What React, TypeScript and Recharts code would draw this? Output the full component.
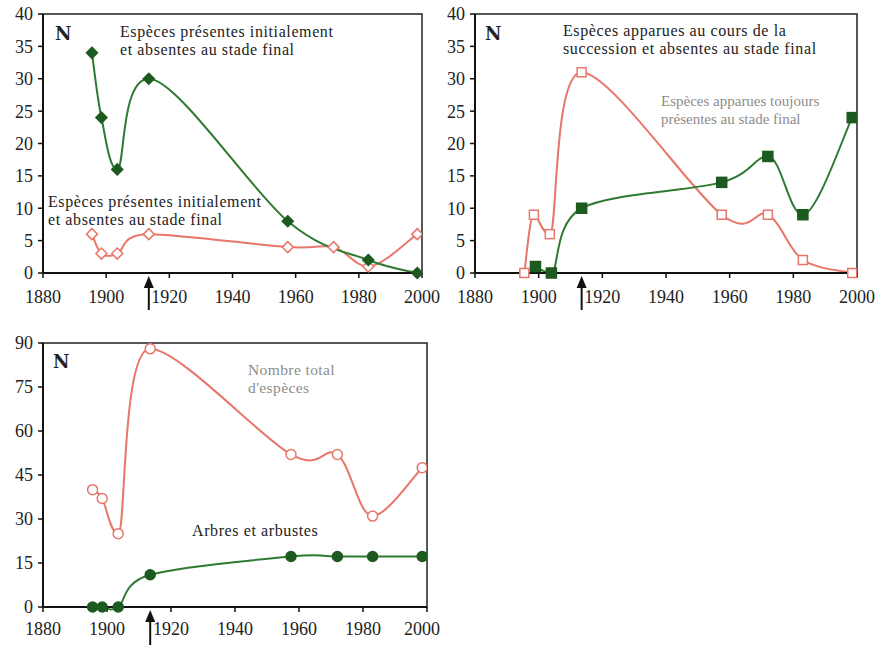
import React from "react";
import { LineChart, Line, XAxis, YAxis, ReferenceArea, ReferenceDot } from "recharts";

// ---- data ----
const years = [1895.5, 1898.5, 1903.5, 1913.5, 1957.5, 1972, 1983, 1998.5];
const xTicks = [1880, 1900, 1920, 1940, 1960, 1980, 2000];

// Chart 1
const initGreen = [34, 24, 16, 30, 8, null, 2, 0];
const initRed = [6, 3, 3, 6, 4, 4, 1, 6];
const yTicks1 = [0, 5, 10, 15, 20, 25, 30, 35, 40];

// Chart 2
const appRed = [0, 9, 6, 31, 9, 9, 2, 0];
const appGreenYears = [1899, 1904, 1913.5, 1957.5, 1972, 1983, 1998.5];
const appGreen = [1, 0, 10, 14, 18, 9, 24];
const yTicks2 = [0, 5, 10, 15, 20, 25, 30, 35, 40];

// Chart 3
const totalRed = [40, 37, 25, 88, 52, 52, 31, 47.5];
const treesGreen = [0, 0, 0, 11, 17.2, 17.2, 17.2, 17.2];
const yTicks3 = [0, 15, 30, 45, 60, 75, 90];

const arrowYear = 1913.5;

const GREEN_LINE = "#2f7a32";
const GREEN_MARK = "#1d5a20";
const RED = "#e8766a";
const FONT = "'Liberation Serif', serif";

const pts = (xs: number[], ys: (number | null)[]) => xs.map((x, i) => ({ x, y: ys[i] }));

// Catmull-Rom style curve factory, flattened at strict local extrema
function smoothCurve(context: any) {
  let p: number[][] = [];
  return {
    areaStart() {},
    areaEnd() {},
    lineStart() {
      p = [];
    },
    point(x: number, y: number) {
      p.push([+x, +y]);
    },
    lineEnd() {
      if (!p.length) return;
      const n = p.length;
      const tan = p.map((pt, i) => {
        const a = p[i - 1] || pt;
        const b = p[i + 1] || pt;
        const tx = (b[0] - a[0]) / 6;
        let ty = (b[1] - a[1]) / 6;
        if (i > 0 && i < n - 1 && (pt[1] - a[1]) * (b[1] - pt[1]) < 0) ty = 0;
        return [tx, ty];
      });
      context.moveTo(p[0][0], p[0][1]);
      for (let i = 0; i < n - 1; i++) {
        const p1 = p[i];
        const p2 = p[i + 1];
        context.bezierCurveTo(
          p1[0] + tan[i][0],
          p1[1] + tan[i][1],
          p2[0] - tan[i + 1][0],
          p2[1] - tan[i + 1][1],
          p2[0],
          p2[1]
        );
      }
    },
  };
}

const diamond = (fill: string, stroke: string, s: number) => (props: any) => {
  const { cx, cy, index } = props;
  if (cx == null || cy == null || props.value == null) return <g key={`d${index}`} />;
  return (
    <path
      key={`d${index}`}
      d={`M${cx},${cy - s} L${cx + s},${cy} L${cx},${cy + s} L${cx - s},${cy} Z`}
      fill={fill}
      stroke={stroke}
      strokeWidth={1.5}
    />
  );
};

const square = (fill: string, stroke: string, s: number) => (props: any) => {
  const { cx, cy, index } = props;
  if (cx == null || cy == null || props.value == null) return <g key={`s${index}`} />;
  return <rect key={`s${index}`} x={cx - s} y={cy - s} width={2 * s} height={2 * s} fill={fill} stroke={stroke} strokeWidth={1.5} />;
};

const circle = (fill: string, stroke: string, r: number) => (props: any) => {
  const { cx, cy, index } = props;
  if (cx == null || cy == null || props.value == null) return <g key={`c${index}`} />;
  return <circle key={`c${index}`} cx={cx} cy={cy} r={r} fill={fill} stroke={stroke} strokeWidth={1.5} />;
};

const Arrow = (props: any) => {
  const { cx, cy } = props;
  if (cx == null || cy == null) return <g />;
  return (
    <g>
      <line x1={cx} y1={cy + 10} x2={cx} y2={cy + 38} stroke="#111" strokeWidth={2} />
      <path d={`M${cx},${cy + 3} L${cx + 5},${cy + 15} L${cx - 5},${cy + 15} Z`} fill="#111" />
    </g>
  );
};

const tickStyle = { fontFamily: FONT, fontSize: 18, fill: "#222" };
const axisLine = { stroke: "#111", strokeWidth: 2 };
const tickLine = { stroke: "#111", strokeWidth: 1.5 };

type PanelProps = {
  left: number;
  top: number;
  width: number;
  height: number;
  margin: any;
  yWidth: number;
  yMax: number;
  yTicks: number[];
  xTickMargin: number;
  children: React.ReactNode;
};

const Panel = ({ left, top, width, height, margin, yWidth, yMax, yTicks, xTickMargin, children }: PanelProps) => (
  <div style={{ position: "absolute", left, top }}>
    <LineChart width={width} height={height} margin={margin}>
      <ReferenceArea x1={1880} x2={2000} y1={0} y2={yMax} fill="none" stroke="#222" strokeWidth={1.5} fillOpacity={0} />
      <XAxis
        dataKey="x"
        type="number"
        domain={[1880, 2000]}
        ticks={xTicks}
        allowDataOverflow
        height={30}
        tick={tickStyle}
        tickSize={5}
        tickMargin={xTickMargin}
        axisLine={axisLine}
        tickLine={tickLine}
      />
      <YAxis
        dataKey="y"
        type="number"
        domain={[0, yMax]}
        ticks={yTicks}
        width={yWidth}
        tick={tickStyle}
        tickSize={5}
        tickMargin={5}
        axisLine={axisLine}
        tickLine={tickLine}
        interval={0}
      />
      {children}
      <ReferenceDot x={arrowYear} y={0} ifOverflow="visible" shape={(p: any) => <Arrow {...p} />} />
    </LineChart>
  </div>
);

const labelStyle = { fontFamily: FONT, fontSize: 16, letterSpacing: 0.6, fill: "#222" };
const greyStyle = { fontFamily: FONT, fontSize: 15, fill: "#8c8c8c" };
const greyStyle3 = { fontFamily: FONT, fontSize: 15.5, letterSpacing: 0.4, fill: "#8c8c8c" };
const nStyle = { fontFamily: "'DejaVu Serif', serif", fontSize: 18, fontWeight: 700, fill: "#222" };

export default function App() {
  return (
    <div style={{ position: "absolute", left: 0, top: 0, width: 882, height: 646, background: "#fff", overflow: "hidden" }}>
      {/* Chart 1 */}
      <Panel left={0} top={0} width={440} height={310} margin={{ top: 14, right: 18, bottom: 7, left: 0 }} yWidth={43} yMax={40} yTicks={yTicks1} xTickMargin={12}>
        <Line data={pts(years, initRed)} dataKey="y" type={smoothCurve as any} stroke={RED} strokeWidth={2} dot={diamond("#fff", RED, 5.5)} isAnimationActive={false} />
        <Line data={pts(years, initGreen)} dataKey="y" type={smoothCurve as any} stroke={GREEN_LINE} strokeWidth={2} connectNulls dot={diamond(GREEN_MARK, GREEN_MARK, 5.5)} isAnimationActive={false} />
      </Panel>
      {/* Chart 2 */}
      <Panel left={440} top={0} width={442} height={310} margin={{ top: 14, right: 25, bottom: 7, left: 0 }} yWidth={35} yMax={40} yTicks={yTicks2} xTickMargin={12}>
        <Line data={pts(years, appRed)} dataKey="y" type={smoothCurve as any} stroke={RED} strokeWidth={2} dot={square("#fff", RED, 4.5)} isAnimationActive={false} />
        <Line data={pts(appGreenYears, appGreen)} dataKey="y" type={smoothCurve as any} stroke={GREEN_LINE} strokeWidth={2} dot={square(GREEN_MARK, GREEN_MARK, 5)} isAnimationActive={false} />
      </Panel>
      {/* Chart 3 */}
      <Panel left={0} top={320} width={440} height={326} margin={{ top: 23, right: 13, bottom: 9, left: 0 }} yWidth={43} yMax={90} yTicks={yTicks3} xTickMargin={10}>
        <Line data={pts(years, totalRed)} dataKey="y" type={smoothCurve as any} stroke={RED} strokeWidth={2} dot={circle("#fff", RED, 5)} isAnimationActive={false} />
        <Line data={pts(years, treesGreen)} dataKey="y" type={smoothCurve as any} stroke={GREEN_LINE} strokeWidth={2} dot={circle(GREEN_MARK, GREEN_MARK, 5)} isAnimationActive={false} />
      </Panel>

      <svg width={882} height={646} style={{ position: "absolute", left: 0, top: 0, pointerEvents: "none" }}>
        <text x={55} y={40} style={nStyle}>N</text>
        <text x={120} y={37} style={labelStyle}>Espèces présentes initialement</text>
        <text x={120} y={55} style={labelStyle}>et absentes au stade final</text>
        <text x={48} y={207} style={labelStyle}>Espèces présentes initialement</text>
        <text x={48} y={225} style={labelStyle}>et absentes au stade final</text>

        <text x={485} y={40} style={nStyle}>N</text>
        <text x={563} y={36} style={labelStyle}>Espèces apparues au cours de la</text>
        <text x={563} y={54} style={labelStyle}>succession et absentes au stade final</text>
        <text x={661} y={106} style={greyStyle}>Espèces apparues toujours</text>
        <text x={661} y={124} style={greyStyle}>présentes au stade final</text>

        <text x={53} y={368} style={nStyle}>N</text>
        <text x={248} y={375} style={greyStyle3}>Nombre total</text>
        <text x={248} y={393} style={greyStyle3}>d'espèces</text>
        <text x={192} y={536} style={labelStyle}>Arbres et arbustes</text>
      </svg>
    </div>
  );
}
